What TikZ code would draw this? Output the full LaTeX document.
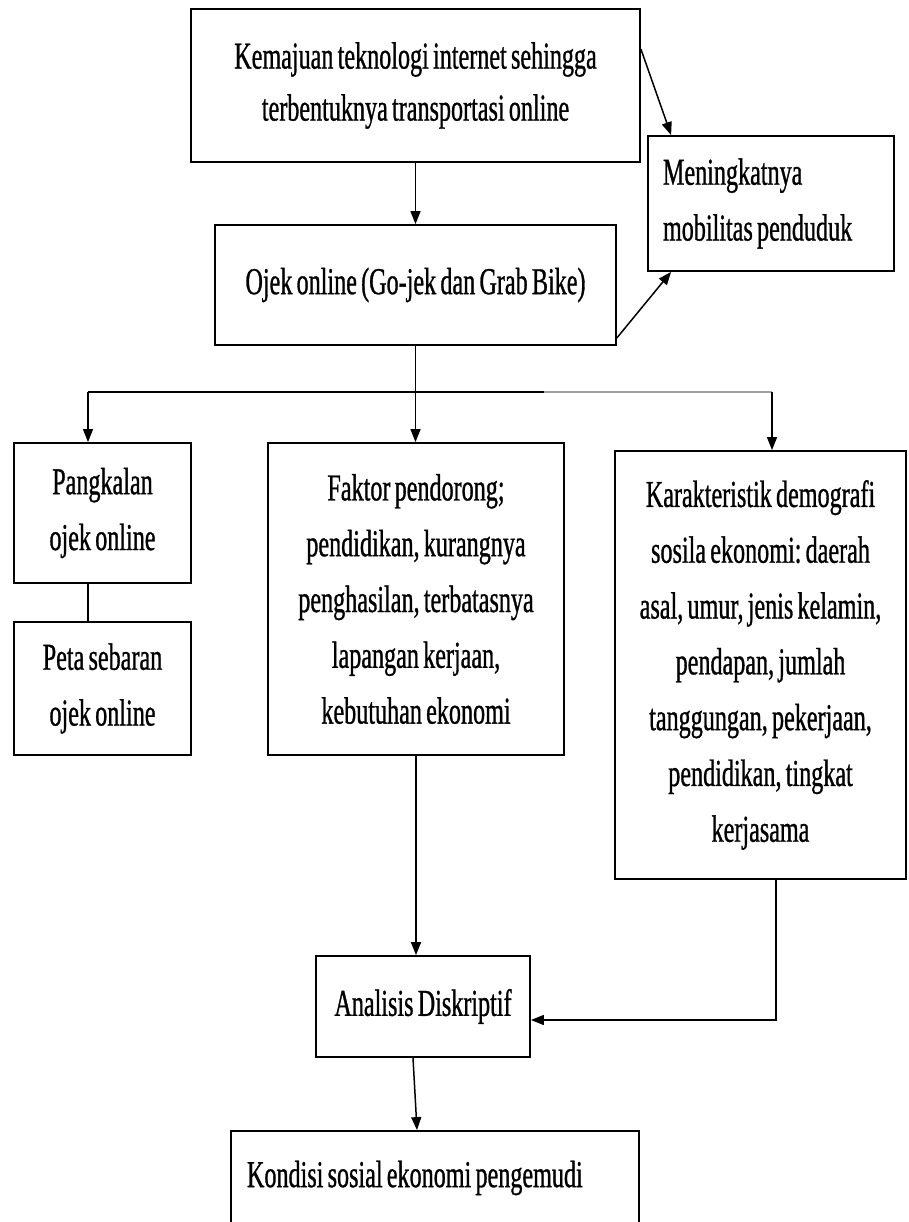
\documentclass[tikz,border=0pt]{standalone}
\usepackage{fontspec}
\setmainfont{Liberation Serif}[FakeStretch=0.635,WordSpace=0.7,FakeBold=0.8]
\usetikzlibrary{calc,arrows.meta}
\frenchspacing

\tikzset{
  kotak/.style={draw, line width=1.8pt, inner sep=0pt, align=center},
  kotakkiri/.style={kotak, align=left, execute at begin node={\spaceskip=0pt\xspaceskip=0pt\relax}},
  panah/.style={line width=1.5pt, -{Triangle[length=13pt,width=10pt]}},
  garis/.style={line width=1.5pt},
}

\begin{document}
\begin{tikzpicture}[x=1pt,y=-1pt,font=\fontsize{38}{55.8}\selectfont]
            \useasboundingbox (0,0) rectangle (908,1222);

            % kotak-kotak
            \node[kotak,minimum width=449pt,minimum height=153pt,font=\fontsize{38}{52}\selectfont] (kemajuan) at (415.5,85.5)
              {Kemajuan teknologi internet sehingga\\terbentuknya transportasi online};
            \node[kotakkiri,minimum width=246pt,minimum height=135pt,text width=216pt,inner xsep=15pt] (mobilitas) at (771,203.5)
              {Meningkatnya\\mobilitas penduduk};
            \node[kotak,minimum width=401pt,minimum height=120pt] (ojek) at (415.5,285)
              {Ojek online (Go-jek dan Grab Bike)};
            \node[kotak,minimum width=177pt,minimum height=140pt] (pangkalan) at (102.5,513)
              {Pangkalan\\ojek online};
            \node[kotak,minimum width=177pt,minimum height=133pt] (peta) at (102.5,688.5)
              {Peta sebaran\\ojek online};
            \node[kotak,minimum width=296pt,minimum height=312pt] (faktor) at (416,599)
              {Faktor pendorong;\\pendidikan, kurangnya\\penghasilan, terbatasnya\\lapangan kerjaan,\\kebutuhan ekonomi};
            \node[kotak,minimum width=291pt,minimum height=428pt] (karakter) at (760.5,665)
              {Karakteristik demografi\\sosila ekonomi: daerah\\asal, umur, jenis kelamin,\\pendapan, jumlah\\tanggungan, pekerjaan,\\pendidikan, tingkat\\kerjasama};
            \node[kotak,minimum width=214pt,minimum height=101pt] (analisis) at (423,1006.5)
              {Analisis Diskriptif};
            \node[kotakkiri,minimum width=408pt,minimum height=94pt,text width=376pt,inner xsep=16pt] (kondisi) at (435,1178)
              {Kondisi sosial ekonomi pengemudi};

            % percabangan
            \coordinate (cabkiri) at (88,392);
            \coordinate (cabtengah) at (544,392);
            \coordinate (cabkanan) at (772,392);

            % penghubung
            \draw[panah] (kemajuan.south) -- (ojek.north);
            \draw[panah] ([yshift=-41pt]kemajuan.north east) -- ([xshift=24pt]mobilitas.north west);
            \draw[panah] ([yshift=8pt]ojek.south east) -- ([xshift=24pt]mobilitas.south west);
            \draw[panah] (ojek.south) -- (ojek.south |- faktor.north);
            \draw[garis] (cabkiri) -- (cabtengah);
            \draw[line width=2.6pt,gray!75] (cabtengah) -- (cabkanan);
            \draw[panah] (cabkiri) -- (cabkiri |- pangkalan.north);
            \draw[panah] (cabkanan) -- (cabkanan |- karakter.north);
            \draw[garis] (pangkalan.south -| cabkiri) -- (peta.north -| cabkiri);
            \draw[panah] (faktor.south) -- (faktor.south |- analisis.north);
            \draw[panah] ([xshift=15.5pt]karakter.south) |- ($(analisis.east)+(0,13.5)$);
            \draw[panah] ([xshift=-10pt]analisis.south) -- ([xshift=-18pt]kondisi.north);
          \end{tikzpicture}
\end{document}
